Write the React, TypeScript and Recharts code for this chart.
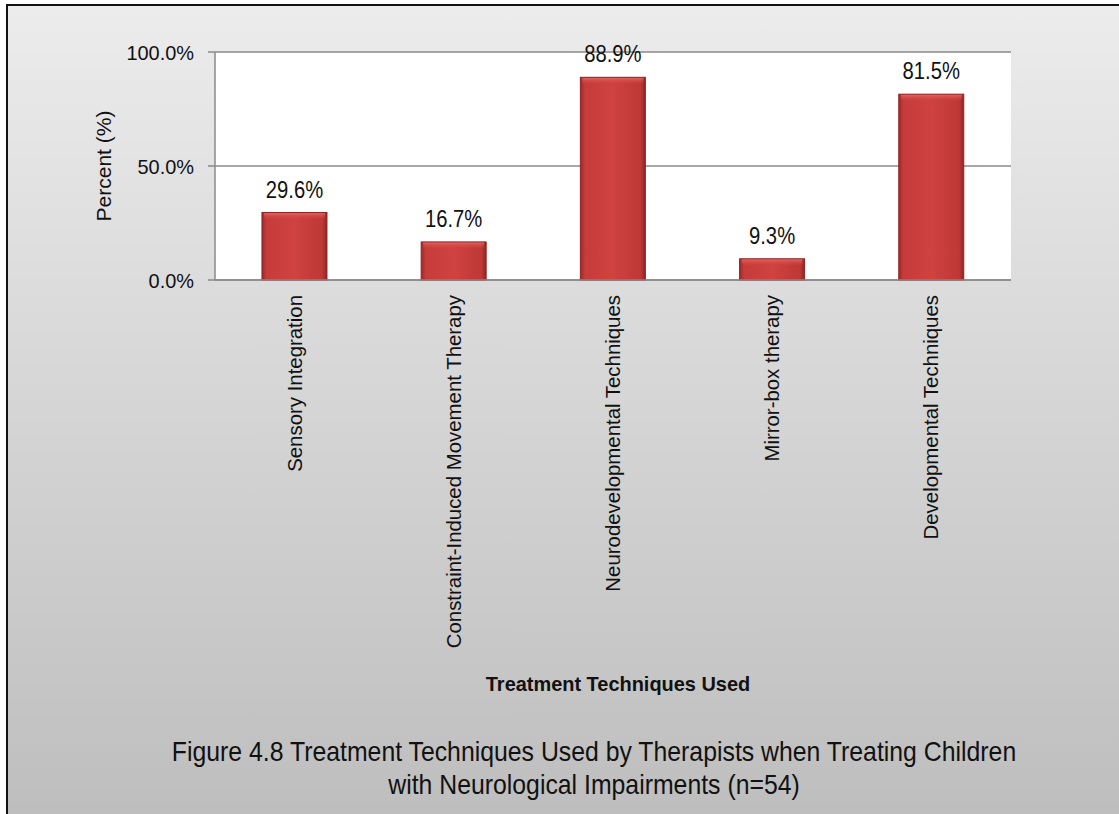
import { Bar, BarChart, CartesianGrid, LabelList, XAxis, YAxis } from "recharts";

const CATEGORIES = [
  "Sensory Integration",
  "Constraint-Induced Movement Therapy",
  "Neurodevelopmental Techniques",
  "Mirror-box therapy",
  "Developmental Techniques"
];
const PERCENTS = [29.6, 16.7, 88.9, 9.3, 81.5];
const Y_TICKS = [0, 50, 100];
const Y_TITLE = "Percent (%)";
const X_TITLE = "Treatment Techniques Used";
const CAPTION_LINES = [
  "Figure 4.8 Treatment Techniques Used by Therapists when Treating Children",
  "with Neurological Impairments (n=54)"
];

const rows = CATEGORIES.map((name, i) => ({ name, pct: PERCENTS[i] }));
// category boundaries for the little tick marks under the x axis
const EDGE_TICKS = CATEGORIES.map((_, i) => i).concat(CATEGORIES.length);

const FONT = "'Liberation Sans', Arial, sans-serif";
const AXIS_GREY = "#8a8a8a";
const INK = "#111";

const pct = (v: number) => `${Number(v).toFixed(1)}%`;

// the source picture is squeezed sideways, so horizontal text gets narrowed a bit
function SquishText({ x, y, sx, children, ...rest }: any) {
  return (
    <g transform={`translate(${x},${y}) scale(${sx},1)`}>
      <text x={0} y={0} fontFamily={FONT} fill={INK} {...rest}>
        {children}
      </text>
    </g>
  );
}

function CategoryTick({ x, y, payload }: any) {
  return (
    <text
      transform={`translate(${x},${y}) rotate(-90)`}
      textAnchor="end"
      dominantBaseline="central"
      fontFamily={FONT}
      fontSize={20.4}
      fill={INK}
    >
      {payload.value}
    </text>
  );
}

function ValueTick({ x, y, payload }: any) {
  return (
    <SquishText x={x} y={y} sx={0.95} textAnchor="end" dominantBaseline="central" fontSize={21}>
      {pct(payload.value)}
    </SquishText>
  );
}

function BarValue({ x, y, width, value }: any) {
  return (
    <SquishText x={x + width / 2} y={y - 15} sx={0.88} textAnchor="middle" fontSize={23}>
      {pct(value)}
    </SquishText>
  );
}

function BevelBar({ x, y, width, height }: any) {
  if (!height || height <= 0) return null;
  return (
    <g>
      <rect x={x} y={y} width={width} height={height} fill="url(#barSide)" />
      <rect x={x + 2} y={y} width={width - 4} height={Math.min(7, height)} fill="url(#barTop)" />
      <rect x={x} y={y} width={width} height={height} fill="none" stroke="#8e2424" strokeWidth={1} />
    </g>
  );
}

export default function App() {
  return (
    <div style={{ position: "absolute", left: 0, top: 0, width: 1119, height: 814, overflow: "hidden", background: "#fff" }}>
      <div
        style={{
          position: "absolute",
          left: 6,
          top: 4,
          right: 0,
          bottom: 0,
          borderLeft: "2px solid #111",
          borderTop: "2px solid #111",
          background: "linear-gradient(#ececec, #bebebe)"
        }}
      />
      <div style={{ position: "absolute", left: 0, top: 0 }}>
        <BarChart
          width={1119}
          height={710}
          data={rows}
          margin={{ top: 52, right: 108, left: 0, bottom: 0 }}
          barCategoryGap="29.5%"
        >
          <defs>
            <linearGradient id="barSide" x1="0" y1="0" x2="1" y2="0">
              <stop offset="0%" stopColor="#9c2a29" />
              <stop offset="7%" stopColor="#c53c3a" />
              <stop offset="50%" stopColor="#cf4240" />
              <stop offset="93%" stopColor="#bd3836" />
              <stop offset="100%" stopColor="#8f2424" />
            </linearGradient>
            <linearGradient id="barTop" x1="0" y1="0" x2="0" y2="1">
              <stop offset="0%" stopColor="#ec6a66" stopOpacity={0.95} />
              <stop offset="100%" stopColor="#d04442" stopOpacity={0} />
            </linearGradient>
          </defs>
          <CartesianGrid vertical={false} fill="#fff" fillOpacity={1} stroke={AXIS_GREY} strokeWidth={1.5} />
          <XAxis
            xAxisId="edges"
            type="number"
            domain={[0, CATEGORIES.length]}
            ticks={EDGE_TICKS}
            allowDataOverflow
            height={0}
            tick={false}
            tickSize={6}
            tickLine={{ stroke: AXIS_GREY, strokeWidth: 1.5 }}
            axisLine={false}
          />
          <XAxis
            dataKey="name"
            height={430}
            interval={0}
            tickLine={false}
            tickSize={0}
            tickMargin={15}
            tick={<CategoryTick />}
            axisLine={{ stroke: AXIS_GREY, strokeWidth: 1.5 }}
            label={{
              content: (p: any) => (
                <SquishText
                  x={p.viewBox.x + p.viewBox.width / 2 + 5}
                  y={683}
                  sx={0.95}
                  textAnchor="middle"
                  dominantBaseline="central"
                  fontWeight="bold"
                  fontSize={21}
                >
                  {X_TITLE}
                </SquishText>
              )
            }}
          />
          <YAxis
            width={215}
            domain={[0, 100]}
            ticks={Y_TICKS}
            tickSize={7}
            tickMargin={14}
            tick={<ValueTick />}
            tickLine={{ stroke: AXIS_GREY, strokeWidth: 1.5 }}
            axisLine={{ stroke: AXIS_GREY, strokeWidth: 1.5 }}
            label={{
              content: (p: any) => (
                <text
                  transform={`translate(${p.viewBox.x + 103},${p.viewBox.y + p.viewBox.height / 2}) rotate(-90)`}
                  textAnchor="middle"
                  dominantBaseline="central"
                  fontFamily={FONT}
                  fontSize={21}
                  fill={INK}
                >
                  {Y_TITLE}
                </text>
              )
            }}
          />
          <Bar dataKey="pct" shape={<BevelBar />} isAnimationActive={false}>
            <LabelList dataKey="pct" content={<BarValue />} />
          </Bar>
        </BarChart>
      </div>
      <div
        style={{
          position: "absolute",
          left: 94,
          top: 735,
          width: 1000,
          textAlign: "center",
          fontFamily: FONT,
          fontSize: 28,
          lineHeight: "33px",
          color: INK,
          transform: "scaleX(0.886)",
          transformOrigin: "50% 50%"
        }}
      >
        {CAPTION_LINES.map((line) => (
          <div key={line}>{line}</div>
        ))}
      </div>
    </div>
  );
}
